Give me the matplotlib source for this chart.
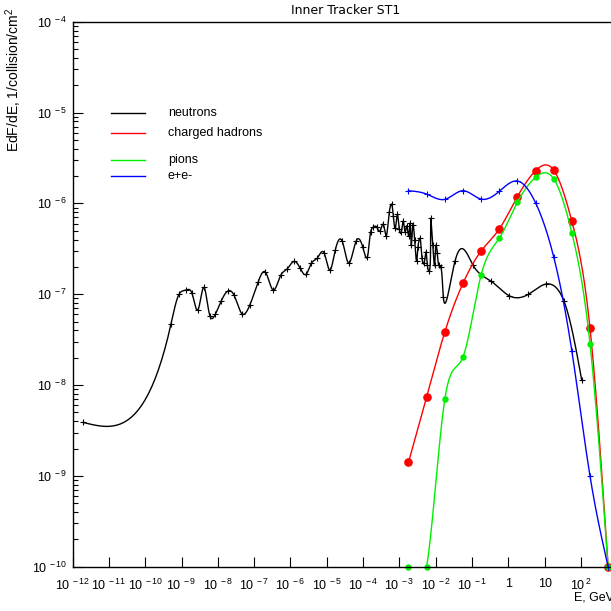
import numpy as np
import matplotlib
matplotlib.use('Agg')
import matplotlib.pyplot as plt
from matplotlib.ticker import FixedLocator, FuncFormatter, NullFormatter
from matplotlib.lines import Line2D

plt.rcParams['font.family'] = ['Liberation Sans', 'DejaVu Sans']
plt.rcParams['mathtext.fontset'] = 'custom'
plt.rcParams['mathtext.rm'] = 'Liberation Sans'

# values, stored as log10(E/GeV) and log10(EdF/dE)
n_logE = [-11.708, -9.292, -9.072, -8.879, -8.713, -8.556, -8.391, -8.218, -8.072, -7.906,
          -7.730, -7.556, -7.336, -7.124, -6.895, -6.694, -6.474, -6.270, -6.088, -5.904,
          -5.730, -5.573, -5.427, -5.262, -5.077, -4.920, -4.766, -4.581, -4.402, -4.187,
          -4.011, -3.884, -3.791, -3.719, -3.625, -3.534, -3.444, -3.369, -3.278, -3.212,
          -3.168, -3.113, -3.058, -3.003, -2.948, -2.893, -2.837, -2.799, -2.744, -2.708,
          -2.672, -2.634, -2.579, -2.523, -2.488, -2.433, -2.377, -2.322, -2.267, -2.231,
          -2.176, -2.138, -2.083, -2.028, -1.992, -1.956, -1.917, -1.862, -1.791, -1.468,
          -0.972, -0.476, 0.028, 0.551, 1.030, 1.534, 2.022]
n_logF = [-8.412, -7.329, -7.002, -6.955, -6.991, -7.175, -6.925, -7.241, -7.222, -7.073,
          -6.966, -7.010, -7.216, -7.123, -6.870, -6.757, -6.955, -6.793, -6.720, -6.639,
          -6.716, -6.782, -6.661, -6.602, -6.544, -6.735, -6.514, -6.412, -6.657, -6.412,
          -6.478, -6.594, -6.313, -6.261, -6.261, -6.305, -6.231, -6.357, -6.093, -6.011,
          -6.137, -6.275, -6.121, -6.283, -6.319, -6.195, -6.313, -6.247, -6.357, -6.220,
          -6.459, -6.239, -6.404, -6.635, -6.478, -6.385, -6.606, -6.661, -6.533, -6.680,
          -6.746, -6.165, -6.459, -6.680, -6.459, -6.551, -6.680, -6.698, -7.029, -6.635,
          -6.680, -6.856, -7.018, -7.002, -6.889, -7.076, -7.946]

# common energy grid of the other three graphs
h_logE = [-2.75, -2.25, -1.75, -1.25, -0.75, -0.25, 0.25, 0.75, 1.25, 1.75, 2.25, 2.75]
# charged hadrons (last bin empty -> drawn at the axis minimum)
ch_logF = [-8.852, -8.130, -7.417, -6.881, -6.525, -6.283, -5.927, -5.641, -5.633, -6.195, -7.370, -10.0]
# pions
pi_logF = [-10.0, -10.0, -8.159, -7.693, -6.790, -6.385, -5.989, -5.714, -5.729, -6.324, -7.543, -10.0]
# e+e-
ee_logF = [-5.861, -5.898, -5.956, -5.861, -5.953, -5.868, -5.754, -5.993, -6.588, -7.623, -9.000, -10.0]

xtick_exp = list(range(-12, 3))
ytick_exp = list(range(-10, -3))

PX_X, PX_Y = 36.3, 90.8   # pixels per decade on the two axes


def nat_coeffs(t, y):
    n = len(t)
    h = np.diff(t)
    A = np.zeros((n, n))
    r = np.zeros(n)
    A[0, 0] = A[-1, -1] = 1.0
    for i in range(1, n - 1):
        A[i, i - 1] = h[i - 1]
        A[i, i] = 2 * (h[i - 1] + h[i])
        A[i, i + 1] = h[i]
        r[i] = 6 * ((y[i + 1] - y[i]) / h[i] - (y[i] - y[i - 1]) / h[i - 1])
    return np.linalg.solve(A, r)


def smooth(lx, ly, stretch=None, per_seg=25):
    # cubic spline through the points; with stretch the curve is parametric,
    # parameter = chord length with the x direction weighted by `stretch`
    x = np.asarray(lx, float)
    y = np.asarray(ly, float)
    if stretch is None:
        t = x.copy()
    else:
        d = np.hypot(stretch * np.diff(x) * PX_X, np.diff(y) * PX_Y)
        t = np.concatenate([[0.0], np.cumsum(d)])
    h = np.diff(t)
    out = []
    for vals in (x, y):
        M = nat_coeffs(t, vals)
        pieces = []
        for i in range(len(t) - 1):
            s = np.linspace(0, h[i], per_seg, endpoint=False)
            hi = h[i]
            pieces.append(M[i] * (hi - s) ** 3 / (6 * hi) + M[i + 1] * s ** 3 / (6 * hi)
                          + (vals[i] / hi - M[i] * hi / 6) * (hi - s)
                          + (vals[i + 1] / hi - M[i + 1] * hi / 6) * s)
        pieces.append([vals[-1]])
        out.append(np.concatenate(pieces))
    return 10 ** out[0], 10 ** out[1]


fig = plt.figure(figsize=(6.11, 6.11), dpi=100)
ax = fig.add_axes([72.7 / 611, 44.3 / 611, 15 * PX_X / 611, 545.0 / 611])
ax.set_xscale('log')
ax.set_yscale('log')
ax.set_xlim(1e-12, 1e3)
ax.set_ylim(1e-10, 1e-4)

series = [
    (n_logE, n_logF, 'black', '+', 4.5, 0.8, 7.0),
    (h_logE, ch_logF, 'red', 'o', 5.2, 1.0, None),
    (h_logE, pi_logF, '#00ee00', 'o', 3.6, 1.0, None),
    (h_logE, ee_logF, 'blue', '+', 4.5, 0.8, None),
]
for lx, ly, col, mk, ms, mew, st in series:
    sx, sy = smooth(lx, ly, stretch=st)
    ax.plot(sx, sy, color=col, lw=1.0)
    ax.plot(10 ** np.asarray(lx), 10 ** np.asarray(ly), ls='none', marker=mk, ms=ms,
            mew=mew, color=col, clip_on=False)

for sp in ax.spines.values():
    sp.set_linewidth(1.0)

ax.xaxis.set_major_locator(FixedLocator([10.0 ** e for e in xtick_exp]))
ax.yaxis.set_major_locator(FixedLocator([10.0 ** e for e in ytick_exp]))


def xlab(v, pos):
    e = int(round(np.log10(v)))
    if e == 0:
        return '1'
    if e == 1:
        return '10'
    return r'$\mathregular{10^{\,%d}}$' % e


def ylab(v, pos):
    e = int(round(np.log10(v)))
    return r'$\mathregular{10^{\,%d}}$' % e


ax.xaxis.set_major_formatter(FuncFormatter(xlab))
ax.yaxis.set_major_formatter(FuncFormatter(ylab))
ax.xaxis.set_minor_formatter(NullFormatter())
ax.yaxis.set_minor_formatter(NullFormatter())
ax.tick_params(which='major', direction='in', length=7.2, width=0.8, labelsize=9, pad=4)
ax.tick_params(which='minor', direction='in', length=3.6, width=0.8)
ax.tick_params(axis='x', which='major', pad=8)
ax.tick_params(axis='x', which='both', top=False)
ax.tick_params(axis='y', which='both', right=False)

fig.text(346 / 611, 1 - 11 / 611, 'Inner Tracker ST1', ha='center', va='center',
         fontsize=9, family='DejaVu Sans')
fig.text(14 / 611, 1 - 8 / 611, r'EdF/dE, 1/collision/cm$^{2}$', rotation=90,
         ha='center', va='top', fontsize=10)
fig.text(574 / 611, 1 - 598 / 611, 'E, GeV', ha='left', va='center', fontsize=9)

# legend, drawn by hand because the rows are unevenly spaced
leg_rows = [('neutrons', 'black', 112.7), ('charged hadrons', 'red', 132.7),
            ('pions', '#00ee00', 160.0), ('e+e-', 'blue', 176.0)]
for lab, col, yy in leg_rows:
    yf = 1 - yy / 611
    fig.add_artist(Line2D([111 / 611, 145 / 611], [yf, yf], color=col, lw=1.0))
    fig.text(168 / 611, yf, lab, ha='left', va='center', fontsize=9)

fig.savefig('out.png', dpi=100)
